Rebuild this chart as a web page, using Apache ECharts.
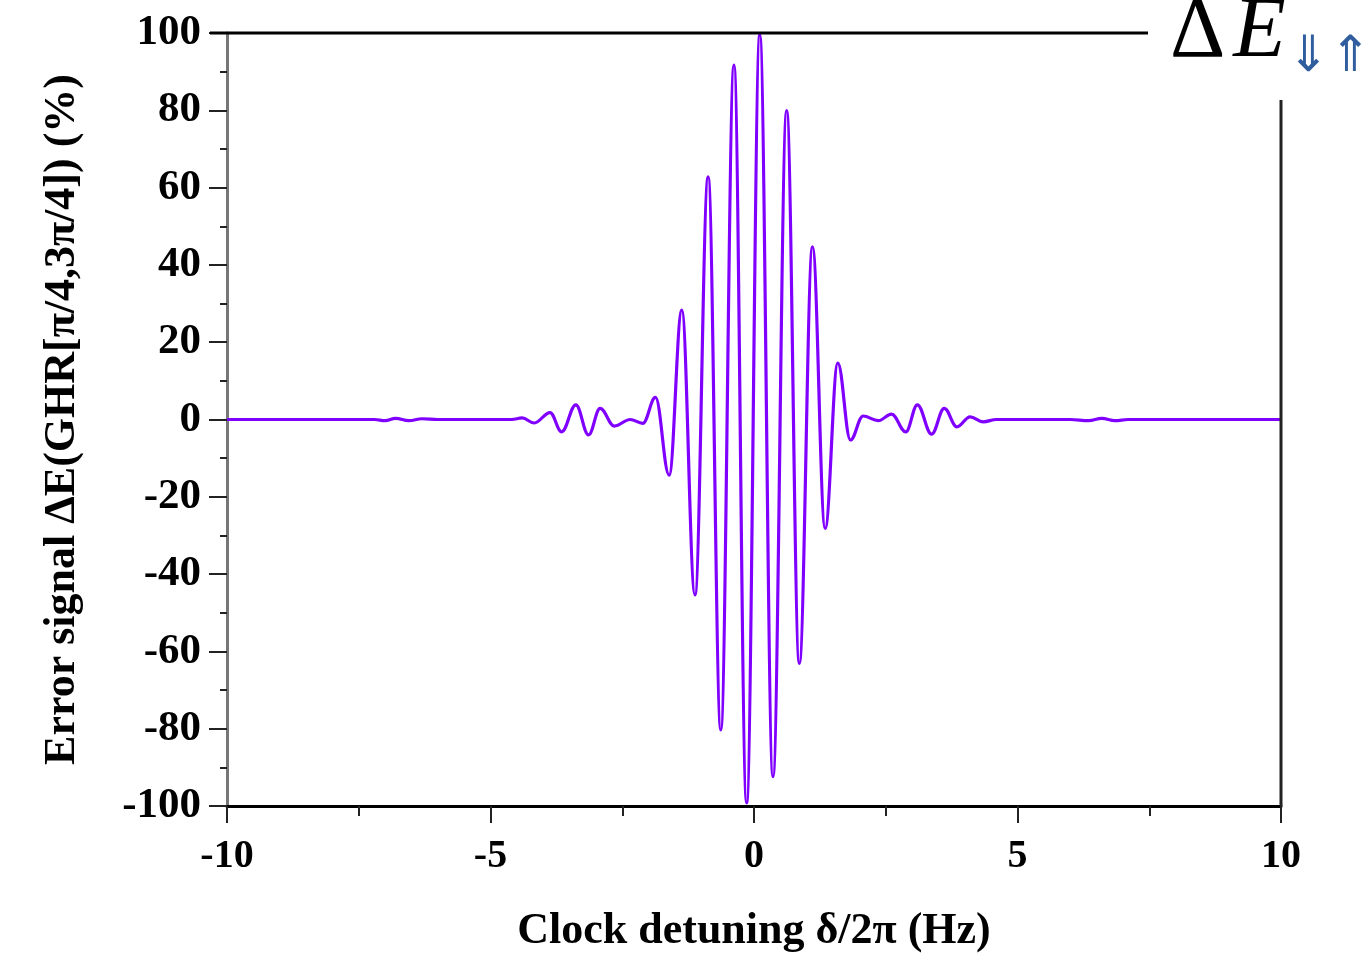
<!DOCTYPE html>
<html>
<head>
<meta charset="utf-8">
<script src="https://cdn.jsdelivr.net/npm/echarts@6/dist/echarts.min.js"></script>
<style>html,body{margin:0;padding:0;background:#fff}#c{width:1368px;height:953px}</style>
</head>
<body>
<div id="c"></div>
<script>
// Clock detuning δ/2π (Hz)
const detuning = [-10, -7.2, -7.0, -6.8, -6.55, -6.3, -6.0, -4.6, -4.4, -4.17, -3.87, -3.65, -3.38, -3.14, -2.92, -2.65, -2.35, -2.11, -1.87, -1.61, -1.37, -1.12, -0.87, -0.63, -0.38, -0.14, 0.11, 0.36, 0.62, 0.86, 1.11, 1.35, 1.59, 1.83, 2.07, 2.36, 2.61, 2.88, 3.10, 3.37, 3.61, 3.85, 4.10, 4.35, 4.6, 6.0, 6.35, 6.6, 6.85, 7.1, 10];
// Error signal (%)
const errorSignal = [0, 0, -0.3, 0.3, -0.3, 0.2, 0, 0, 0.4, -0.9, 1.8, -3.2, 3.8, -4.0, 2.9, -1.7, 0, -1.0, 5.7, -14.4, 28.3, -45.4, 62.8, -80.3, 91.7, -99.2, 99.5, -92.4, 79.9, -63.1, 44.7, -28.2, 14.6, -5.3, 0.9, -0.3, 1.4, -3.2, 3.8, -3.8, 2.9, -1.9, 0.7, -0.6, 0, 0, -0.3, 0.3, -0.3, 0, 0];
const xTicks = {min: -10, max: 10, interval: 5};
const yTicks = {min: -100, max: 100, interval: 20};

const serif = '"Liberation Serif", "Times New Roman", serif';
const chart = echarts.init(document.getElementById('c'), null, {renderer: 'canvas'});
const data = detuning.map((x, i) => [x, errorSignal[i]]);

chart.setOption({
  animation: false,
  backgroundColor: '#fff',
  grid: {left: 227, right: 87, top: 33, bottom: 147, containLabel: false, outerBoundsMode: 'none'},
  xAxis: {
    type: 'value', min: xTicks.min, max: xTicks.max, interval: xTicks.interval,
    name: 'Clock detuning δ/2π (Hz)', nameLocation: 'middle', nameGap: 104,
    nameTextStyle: {fontFamily: serif, fontWeight: 'bold', fontSize: 44, color: '#000'},
    axisLine: {onZero: false, lineStyle: {color: '#000', width: 3}},
    axisTick: {length: 17, lineStyle: {color: '#222', width: 2}},
    minorTick: {show: true, splitNumber: 2, length: 10, lineStyle: {color: '#222', width: 2}},
    axisLabel: {margin: 31, fontFamily: serif, fontWeight: 'bold', fontSize: 40, color: '#000'},
    splitLine: {show: false}
  },
  yAxis: {
    type: 'value', min: yTicks.min, max: yTicks.max, interval: yTicks.interval,
    name: 'Error signal ΔE(GHR[π/4,3π/4]) (%)', nameLocation: 'middle', nameGap: 142,
    nameTextStyle: {fontFamily: serif, fontWeight: 'bold', fontSize: 44, color: '#000'},
    axisLine: {onZero: false, lineStyle: {color: '#777', width: 3}},
    axisTick: {length: 18, lineStyle: {color: '#222', width: 2}},
    minorTick: {show: true, splitNumber: 2, length: 7, lineStyle: {color: '#222', width: 2}},
    axisLabel: {margin: 26, fontFamily: serif, fontWeight: 'bold', fontSize: 43, color: '#000'},
    splitLine: {show: false}
  },
  series: [{
    type: 'line', data: data, smooth: 0.38, smoothMonotone: 'x', showSymbol: false,
    lineStyle: {color: '#8000ff', width: 3.2}
  }]
});

const pTopLeft = chart.convertToPixel({gridIndex: 0}, [xTicks.min, yTicks.max]);
const pBotRight = chart.convertToPixel({gridIndex: 0}, [xTicks.max, yTicks.min]);
chart.setOption({
  graphic: [
    {type: 'line', shape: {x1: pTopLeft[0] - 17, y1: pTopLeft[1], x2: 1148, y2: pTopLeft[1]}, style: {stroke: '#000', lineWidth: 3}, z: 10},
    {type: 'line', shape: {x1: pBotRight[0], y1: 100, x2: pBotRight[0], y2: pBotRight[1]}, style: {stroke: '#222', lineWidth: 3}, z: 10},
    {type: 'text', left: 1170, top: -10, z: 10,
      style: {
        text: '{d|Δ}{e|E}{s|⇓}{t|⇑}',
        rich: {
          d: {fontFamily: serif, fontSize: 86, fill: '#000', padding: [0, 8, 0, 0]},
          e: {fontFamily: serif, fontStyle: 'italic', fontSize: 86, fill: '#000'},
          s: {fontFamily: '"DejaVu Sans", sans-serif', fontSize: 50, fill: '#2f5d9e', padding: [50, 0, 0, 2]},
          t: {fontFamily: '"DejaVu Sans", sans-serif', fontSize: 50, fill: '#2f5d9e', padding: [50, 0, 0, 0]}
        }
      }
    }
  ]
});
</script>
</body>
</html>
